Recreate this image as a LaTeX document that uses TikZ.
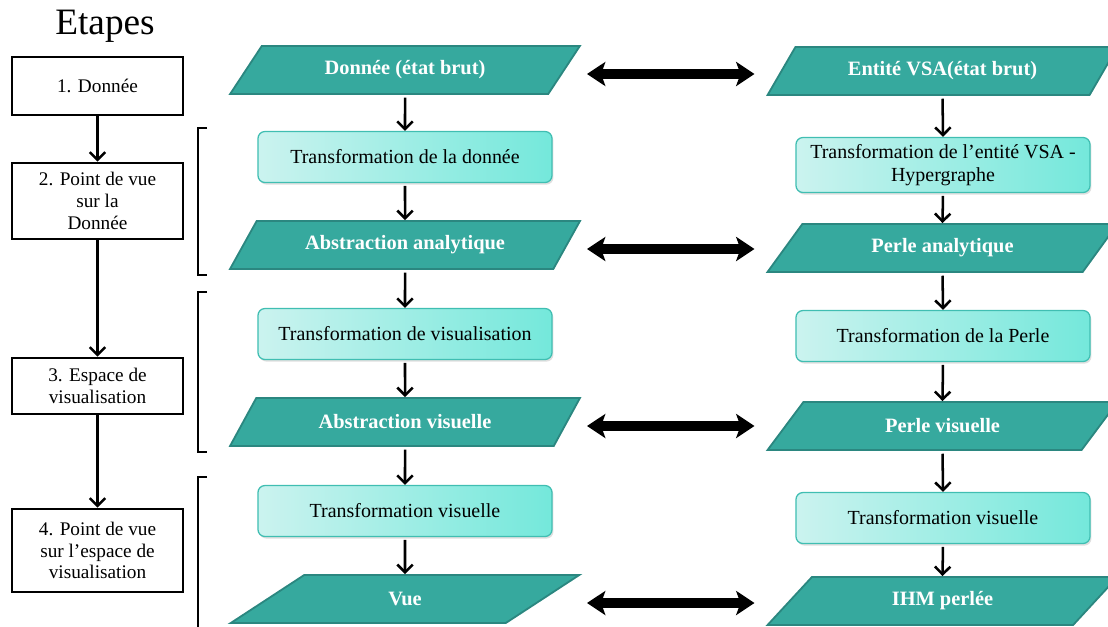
\documentclass[tikz,border=0pt]{standalone}
\usepackage{fontspec}
\setmainfont{Liberation Serif}
\usetikzlibrary{shapes.geometric,arrows.meta,shadows,calc}
\definecolor{sarcelle}{HTML}{36A99E}
\definecolor{sarcelleb}{HTML}{2B8780}
\definecolor{clair}{HTML}{CBF3EF}
\definecolor{clairb}{HTML}{74E8DB}
\definecolor{clairt}{HTML}{40BEB2}

\begin{document}
\begin{tikzpicture}[x=0.025cm,y=-0.025cm,
    etape/.style={draw,line width=1.8pt,fill=white,align=center,minimum width=4.275cm,
      font=\fontsize{13.7}{15.5}\selectfont,inner sep=2pt},
    donnee/.style={trapezium,trapezium left angle=56,trapezium right angle=124,
      trapezium stretches=true,minimum width=8.75cm,minimum height=1.2cm,
      fill=sarcelle,draw=sarcelleb,line width=1.3pt,text=white,
      font=\fontsize{14.5}{16}\selectfont\bfseries},
    transfo/.style={rectangle,rounded corners=5pt,minimum width=7.35cm,minimum height=1.275cm,
      left color=clair,right color=clairb,draw=clairt,line width=0.9pt,align=center,
      drop shadow={shadow xshift=1pt,shadow yshift=-1.5pt,opacity=0.25},
      font=\fontsize{14.2}{16}\selectfont},
    fleche/.style={line width=1.8pt,-{Straight Barb[length=5.5pt,width=11pt]}},
    double/.style={line width=6.5pt,{Stealth[length=13pt,width=17pt,inset=3pt]}-{Stealth[length=13pt,width=17pt,inset=3pt]}},
    crochet/.style={line width=1.8pt}]
    \useasboundingbox (0,0) rectangle (1108,626);

    % etapes
    \node[font=\fontsize{26.5}{30}\selectfont] (titre) at (105,26) {Etapes};
    \node[etape,minimum height=1.45cm] (etape1) at (97.5,86) {1. Donnée};
    \node[etape,minimum height=1.9cm] (etape2) at (97.5,201) {2. Point de vue\\sur la\\Donnée};
    \node[etape,minimum height=1.4cm] (etape3) at (97.5,386) {3. Espace de\\visualisation};
    \node[etape,minimum height=2.075cm] (etape4) at (97.5,550.5) {4. Point de vue\\sur l’espace de\\visualisation};
    \draw[fleche] (etape1) -- (etape2);
    \draw[fleche] (etape2) -- (etape3);
    \draw[fleche] (etape3) -- (etape4);

    % crochets
    \draw[crochet] (207,128) -- (198,128) -- (198,275) -- (207,275);
    \draw[crochet] (207,292) -- (198,292) -- (198,452) -- (207,452);
    \draw[crochet] (207,477) -- (198,477) -- (198,640);

    % colonne de gauche
    \node[donnee] (brut) at (405,70) {Donnée (état brut)};
    \node[transfo] (tdonnee) at (405,157) {Transformation de la donnée};
    \node[donnee] (absana) at (405,245) {Abstraction analytique};
    \node[transfo] (tvisu) at (405,334) {Transformation de visualisation};
    \node[donnee] (absvis) at (405,422) {Abstraction visuelle};
    \node[transfo] (tvis) at (405,511) {Transformation visuelle};
    \node[donnee] (vue) at (405,599) {Vue};

    % colonne de droite
    \node[donnee] (entite) at (942.5,71) {Entité VSA(état brut)};
    \node[transfo,minimum height=1.375cm] (tentite) at (943,165) {Transformation de l’entité VSA -\\Hypergraphe};
    \node[donnee] (perleana) at (942.5,248) {Perle analytique};
    \node[transfo] (tperle) at (943,336) {Transformation de la Perle};
    \node[donnee] (perlevis) at (942.5,426) {Perle visuelle};
    \node[transfo] (tperlevis) at (943,518) {Transformation visuelle};
    \node[donnee] (ihm) at (942.5,601) {IHM perlée};

    % fleches verticales
    \foreach \a/\b in {brut/tdonnee,tdonnee/absana,absana/tvisu,tvisu/absvis,absvis/tvis,tvis/vue,
        entite/tentite,tentite/perleana,perleana/tperle,tperle/perlevis,perlevis/tperlevis,tperlevis/ihm}
      \draw[fleche,shorten <=2pt] (\a.south) -- (\b.north);

    % correspondances
    \foreach \a/\b in {brut/entite,absana/perleana,absvis/perlevis,vue/ihm}{
      \coordinate (g-\a) at ($(\a.center)+(182,4)$);
      \coordinate (d-\b) at ($(\b.center)+(-188,0)$);
      \draw[double] (g-\a) -- (g-\a -| d-\b);
    }
\end{tikzpicture}
\end{document}
